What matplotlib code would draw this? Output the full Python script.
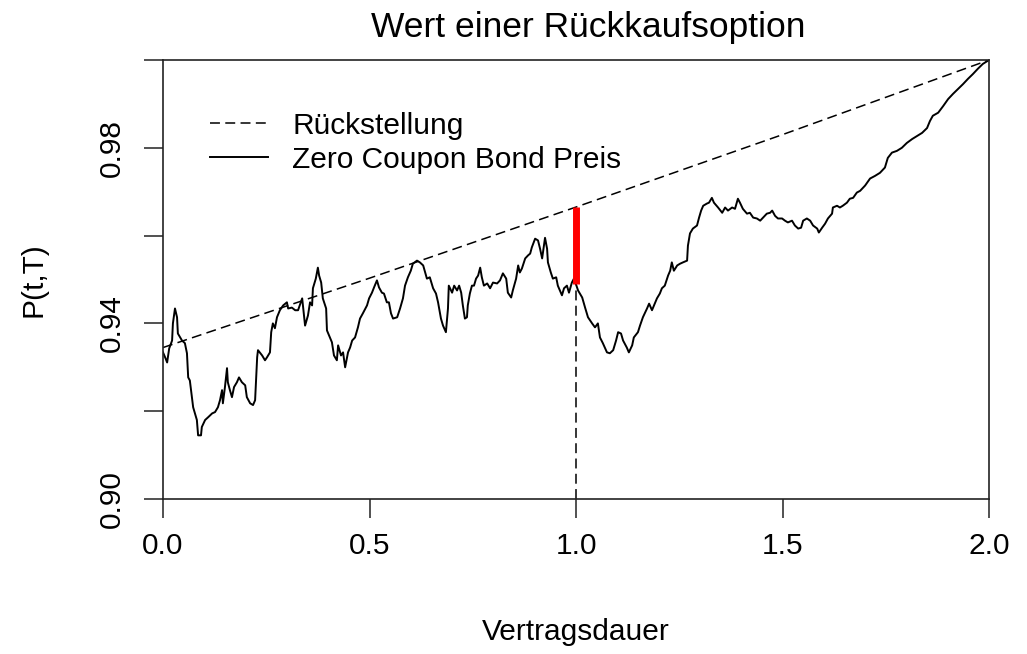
import matplotlib
matplotlib.use("Agg")
import matplotlib.pyplot as plt

# ---- data ----
t_path = [0.000, 0.005, 0.010, 0.015, 0.022, 0.024, 0.029, 0.034, 0.036, 0.046, 0.053, 0.058, 0.061, 0.065, 0.070,
          0.073, 0.082, 0.085, 0.092, 0.094, 0.102, 0.109, 0.119, 0.126, 0.133, 0.138, 0.143, 0.145, 0.150, 0.155,
          0.157, 0.162, 0.167, 0.172, 0.179, 0.184, 0.191, 0.199, 0.203, 0.211, 0.218, 0.223, 0.228, 0.230, 0.240,
          0.247, 0.252, 0.259, 0.262, 0.266, 0.271, 0.276, 0.283, 0.291, 0.300, 0.303, 0.312, 0.320, 0.327,
          0.337, 0.344, 0.351, 0.356, 0.361, 0.363, 0.370, 0.375, 0.378, 0.383, 0.387, 0.395, 0.397, 0.404, 0.409,
          0.414, 0.421, 0.424, 0.431, 0.436, 0.441, 0.448, 0.453, 0.458, 0.465, 0.472, 0.477, 0.484, 0.494, 0.499,
          0.506, 0.511, 0.518, 0.523, 0.530, 0.535, 0.542, 0.547, 0.552, 0.557, 0.567, 0.574, 0.581, 0.586, 0.593,
          0.600, 0.605, 0.615, 0.622, 0.630, 0.639, 0.646, 0.654, 0.661, 0.666, 0.673, 0.678, 0.685, 0.690, 0.692,
          0.700, 0.705, 0.712, 0.717, 0.722, 0.726, 0.731, 0.736, 0.738, 0.743, 0.748, 0.753, 0.758, 0.763, 0.768,
          0.772, 0.777, 0.785, 0.792, 0.799, 0.809, 0.816, 0.823, 0.831, 0.835, 0.843, 0.847, 0.855, 0.860, 0.864,
          0.869, 0.877, 0.884, 0.889, 0.893, 0.901, 0.908, 0.913, 0.918, 0.925, 0.930, 0.932, 0.939, 0.944, 0.952,
          0.956, 0.966, 0.971, 0.978, 0.983, 0.990, 0.995, 1.000,
          1.005, 1.015, 1.022, 1.029, 1.039, 1.046, 1.053, 1.058, 1.065, 1.075, 1.082, 1.090, 1.097, 1.102, 1.109,
          1.114, 1.123, 1.128, 1.136, 1.140, 1.150, 1.155, 1.162, 1.172, 1.177, 1.184, 1.189, 1.196, 1.203, 1.208,
          1.215, 1.223, 1.228, 1.232, 1.237, 1.245, 1.252, 1.259, 1.269, 1.271, 1.276, 1.283, 1.293, 1.298, 1.303,
          1.308, 1.317, 1.322, 1.329, 1.334, 1.344,
          1.354, 1.361, 1.368, 1.378, 1.385, 1.392, 1.397, 1.404, 1.414, 1.421, 1.429, 1.438, 1.446, 1.453, 1.462,
          1.470, 1.475, 1.482, 1.489, 1.499, 1.506, 1.513, 1.523, 1.530, 1.538, 1.545, 1.550, 1.559, 1.567, 1.574,
          1.584, 1.588, 1.596, 1.603, 1.610, 1.620, 1.622, 1.632, 1.639, 1.646, 1.656, 1.663, 1.671, 1.680, 1.688,
          1.700, 1.712, 1.724, 1.736, 1.748, 1.755, 1.765, 1.777, 1.789, 1.801, 1.814, 1.826, 1.838, 1.850, 1.857,
          1.864, 1.877, 1.889, 1.901, 1.913, 1.925, 1.937, 1.949, 1.961, 1.973, 1.985, 2.000]

p_path = [0.9334, 0.9323, 0.9311, 0.9343, 0.9361, 0.9400, 0.9434, 0.9414, 0.9377, 0.9361, 0.9355, 0.9332, 0.9277, 0.9270, 0.9232,
          0.9209, 0.9180, 0.9145, 0.9145, 0.9164, 0.9180, 0.9186, 0.9195, 0.9198, 0.9209, 0.9225, 0.9248, 0.9218, 0.9255, 0.9298,
          0.9266, 0.9248, 0.9232, 0.9255, 0.9266, 0.9277, 0.9266, 0.9259, 0.9232, 0.9218, 0.9214, 0.9225, 0.9323, 0.9339, 0.9327,
          0.9316, 0.9323, 0.9334, 0.9380, 0.9400, 0.9389, 0.9414, 0.9430, 0.9441, 0.9448, 0.9434, 0.9436, 0.9430, 0.9430,
          0.9457, 0.9395, 0.9418, 0.9448, 0.9441, 0.9480, 0.9502, 0.9527, 0.9509, 0.9493, 0.9457, 0.9434, 0.9384, 0.9368, 0.9357,
          0.9327, 0.9316, 0.9350, 0.9327, 0.9334, 0.9300, 0.9334, 0.9345, 0.9361, 0.9368, 0.9391, 0.9411, 0.9423, 0.9441, 0.9457,
          0.9470, 0.9482, 0.9498, 0.9482, 0.9470, 0.9468, 0.9448, 0.9448, 0.9423, 0.9411, 0.9414, 0.9434, 0.9457, 0.9486, 0.9505,
          0.9520, 0.9536, 0.9543, 0.9539, 0.9532, 0.9502, 0.9505, 0.9480, 0.9468, 0.9448, 0.9411, 0.9395, 0.9380, 0.9434, 0.9486,
          0.9470, 0.9486, 0.9475, 0.9486, 0.9470, 0.9441, 0.9411, 0.9414, 0.9441, 0.9468, 0.9486, 0.9486, 0.9502, 0.9509, 0.9527,
          0.9505, 0.9486, 0.9491, 0.9480, 0.9493, 0.9491, 0.9498, 0.9514, 0.9502, 0.9470, 0.9459, 0.9475, 0.9502, 0.9532, 0.9516,
          0.9525, 0.9548, 0.9555, 0.9559, 0.9573, 0.9593, 0.9589, 0.9570, 0.9548, 0.9595, 0.9570, 0.9539, 0.9516, 0.9502, 0.9505,
          0.9486, 0.9464, 0.9480, 0.9486, 0.9470, 0.9493, 0.9502, 0.9489,
          0.9475, 0.9459, 0.9436, 0.9414, 0.9400, 0.9391, 0.9400, 0.9368, 0.9355, 0.9334, 0.9332, 0.9339, 0.9361, 0.9380, 0.9377,
          0.9361, 0.9345, 0.9334, 0.9350, 0.9368, 0.9380, 0.9395, 0.9414, 0.9434, 0.9445, 0.9430, 0.9441, 0.9457, 0.9468, 0.9480,
          0.9486, 0.9509, 0.9520, 0.9539, 0.9520, 0.9532, 0.9536, 0.9539, 0.9543, 0.9577, 0.9605, 0.9616, 0.9623, 0.9641, 0.9657,
          0.9668, 0.9673, 0.9675, 0.9686, 0.9675, 0.9664,
          0.9652, 0.9664, 0.9657, 0.9664, 0.9661, 0.9684, 0.9675, 0.9661, 0.9650, 0.9652, 0.9641, 0.9639, 0.9634, 0.9641, 0.9650,
          0.9652, 0.9657, 0.9645, 0.9639, 0.9639, 0.9634, 0.9630, 0.9634, 0.9623, 0.9616, 0.9618, 0.9634, 0.9639, 0.9634, 0.9623,
          0.9616, 0.9607, 0.9618, 0.9627, 0.9639, 0.9650, 0.9664, 0.9668, 0.9664, 0.9668, 0.9675, 0.9684, 0.9686, 0.9698, 0.9702,
          0.9714, 0.9730, 0.9736, 0.9743, 0.9755, 0.9777, 0.9789, 0.9793, 0.9800, 0.9811, 0.9820, 0.9827, 0.9834, 0.9845, 0.9861,
          0.9873, 0.9880, 0.9895, 0.9911, 0.9923, 0.9934, 0.9945, 0.9957, 0.9968, 0.9980, 0.9991, 1.0000]

t_reserve = [0.0, 0.5, 1.0, 1.5, 2.0]
p_reserve = [0.9345, 0.9503, 0.9665, 0.9830, 1.0000]

t_surrender = 1.0
p_at_surrender = 0.9489      # bond price at t = 1
r_at_surrender = p_reserve[2]  # reserve at t = 1

x_ticks = [0.0, 0.5, 1.0, 1.5, 2.0]
x_labels = ["0.0", "0.5", "1.0", "1.5", "2.0"]
y_ticks = [0.90, 0.92, 0.94, 0.96, 0.98, 1.00]
y_labels = ["0.90", "", "0.94", "", "0.98", ""]

title = "Wert einer Rückkaufsoption"
xlabel = "Vertragsdauer"
ylabel = "P(t,T)"
legend_labels = ["Rückstellung", "Zero Coupon Bond Preis"]

# ---- figure ----
plt.rcParams['font.family'] = ['Liberation Sans', 'DejaVu Sans']
FS = 21.5

W, H = 1027, 654
fig = plt.figure(figsize=(W / 100, H / 100), dpi=100)
L, R, T, B = 163, 989, 60, 499
ax = fig.add_axes([L / W, 1 - B / H, (R - L) / W, (B - T) / H])

dash = (0, (6.5, 3.5))
ax.plot(t_reserve, p_reserve, color='black', lw=1.1, linestyle=dash, label=legend_labels[0])
ax.plot(t_path, p_path, color='black', lw=1.4, label=legend_labels[1])
ax.vlines(t_surrender, 0.90, p_at_surrender, colors='black', lw=1.1, linestyles=[dash])
ax.vlines(t_surrender, p_at_surrender, r_at_surrender, colors='#ff0000', lw=5)

ax.set_xlim(0, 2)
ax.set_ylim(0.90, 1.00)
ax.set_xticks(x_ticks)
ax.set_xticklabels(x_labels)
ax.set_yticks(y_ticks)
ax.set_yticklabels(y_labels, rotation=90, va='center')
ax.tick_params(axis='both', direction='out', length=13.5, width=1.1, labelsize=FS, color='#222222')
ax.tick_params(axis='x', pad=10)
ax.tick_params(axis='y', pad=13)
for s in ax.spines.values():
    s.set_linewidth(1.2)
    s.set_color('#222222')

leg = ax.legend(loc='upper left', bbox_to_anchor=(0.057, 0.882), frameon=False, fontsize=FS,
                handlelength=1.95, handletextpad=0.8, labelspacing=0.2, borderpad=0, borderaxespad=0)

fig.text(588 / W, 1 - 27 / H, title, ha='center', va='center', fontsize=25.5)
fig.text(576 / W, 1 - 632 / H, xlabel, ha='center', va='center', fontsize=FS)
fig.text(34 / W, 1 - 280 / H, ylabel, ha='center', va='center', rotation=90, fontsize=FS)

fig.savefig("out.png", dpi=100)
